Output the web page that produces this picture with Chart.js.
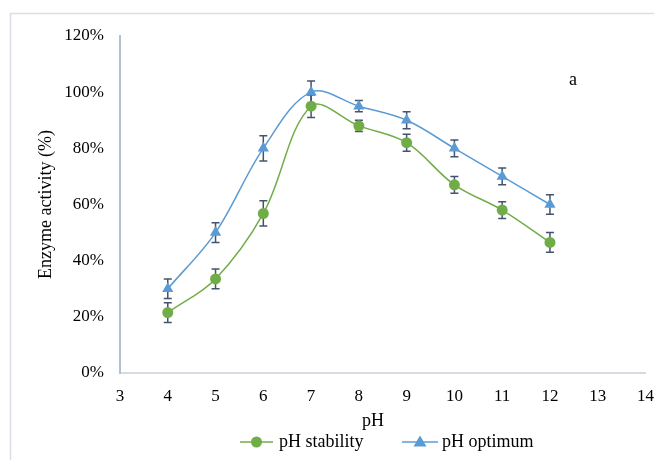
<!doctype html>
<html lang="en">
  <head>
    <meta charset="utf-8">
    <title>pH stability and optimum</title>
    <style>
      * { margin: 0; padding: 0; }
      body { background: #fff; }
      .chartBox { width: 654px; height: 460px; }
    </style>
  </head>
  <body>
    <div class="chartBox">
      <canvas id="myChart" width="654" height="460"></canvas>
    </div>
    <script src="https://cdn.jsdelivr.net/npm/chart.js"></script>
    <script>
    // data
    const phValues = [4, 5, 6, 7, 8, 9, 10, 11, 12];
    const stability = [21.5, 33.5, 56.8, 95, 88, 82, 67, 58, 46.5];
    const stabilityErr = [3.5, 3.5, 4.5, 4, 2, 3, 3, 3, 3.5];
    const optimum = [30, 50, 80, 100, 95, 90, 80, 70, 60];
    const optimumErr = [3.5, 3.5, 4.5, 4, 2, 3, 3, 3, 3.5];
    const yTicks = [0, 20, 40, 60, 80, 100, 120];
    const xTicks = [3, 4, 5, 6, 7, 8, 9, 10, 11, 12, 13, 14];

    const green = '#70ad47';
    const blue = '#5b9bd5';
    const errColor = '#44546a';
    const serif = "'Liberation Serif', 'Times New Roman', serif";

    const toPoints = (ys) => phValues.map((x, i) => ({ x, y: ys[i] }));

    const data = {
      datasets: [{
        label: 'pH stability',
        data: toPoints(stability),
        errors: stabilityErr,
        borderColor: green,
        backgroundColor: green,
        borderWidth: 1.5,
        pointStyle: 'circle',
        pointRadius: 5.5,
        pointBorderWidth: 0,
        tension: 0.35
      }, {
        label: 'pH optimum',
        data: toPoints(optimum),
        errors: optimumErr,
        borderColor: blue,
        backgroundColor: blue,
        borderWidth: 1.5,
        pointStyle: 'triangle',
        pointRadius: 6.5,
        pointBorderWidth: 0,
        tension: 0.35
      }]
    };

    // error bars, frame, legend and labels
    const extras = {
      id: 'extras',
      beforeDraw(chart) {
        const ctx = chart.ctx;
        ctx.save();
        ctx.strokeStyle = '#d9dde6';
        ctx.lineWidth = 1.5;
        ctx.strokeRect(10.5, 13.5, 720, 520);
        ctx.restore();
      },
      beforeDatasetsDraw(chart) {
        const ctx = chart.ctx;
        const xs = chart.scales.x, ys = chart.scales.y;
        ctx.save();
        ctx.strokeStyle = errColor;
        ctx.lineWidth = 1.5;
        chart.data.datasets.forEach(ds => {
          ds.data.forEach((p, i) => {
            const px = xs.getPixelForValue(p.x);
            const top = ys.getPixelForValue(p.y + ds.errors[i]);
            const bot = ys.getPixelForValue(p.y - ds.errors[i]);
            ctx.beginPath();
            ctx.moveTo(px, top); ctx.lineTo(px, bot);
            ctx.moveTo(px - 4, top); ctx.lineTo(px + 4, top);
            ctx.moveTo(px - 4, bot); ctx.lineTo(px + 4, bot);
            ctx.stroke();
          });
        });
        ctx.restore();
      },
      afterDraw(chart) {
        const ctx = chart.ctx;
        ctx.save();
        ctx.fillStyle = '#000';
        ctx.font = '18px ' + serif;
        ctx.textBaseline = 'middle';
        ctx.textAlign = 'center';
        ctx.fillText('pH', 373, 421);
        ctx.fillText('a', 573, 80);

        // legend: line with marker, then the series name
        const items = [
          { ds: chart.data.datasets[0], x0: 240, x1: 273, tx: 279 },
          { ds: chart.data.datasets[1], x0: 402, x1: 438, tx: 442 }
        ];
        const ly = 442;
        items.forEach(it => {
          ctx.strokeStyle = it.ds.borderColor;
          ctx.lineWidth = 1.5;
          ctx.beginPath();
          ctx.moveTo(it.x0, ly); ctx.lineTo(it.x1, ly);
          ctx.stroke();
          const cx = (it.x0 + it.x1) / 2;
          ctx.fillStyle = it.ds.backgroundColor;
          ctx.beginPath();
          if (it.ds.pointStyle === 'circle') {
            ctx.arc(cx, ly, 5.5, 0, Math.PI * 2);
          } else {
            ctx.moveTo(cx, ly - 6.5);
            ctx.lineTo(cx + 6.5, ly + 4.5);
            ctx.lineTo(cx - 6.5, ly + 4.5);
            ctx.closePath();
          }
          ctx.fill();
          ctx.fillStyle = '#000';
          ctx.textAlign = 'left';
          ctx.fillText(it.ds.label, it.tx, ly);
        });
        ctx.restore();
      }
    };

    const config = {
      type: 'line',
      data,
      options: {
        responsive: false,
        animation: false,
        layout: { padding: { left: 31, top: 36, right: 0, bottom: 0 } },
        plugins: {
          legend: { display: false },
          tooltip: { enabled: false }
        },
        scales: {
          x: {
            type: 'linear',
            min: 3,
            max: 14,
            afterBuildTicks: s => { s.ticks = xTicks.map(v => ({ value: v })); },
            afterFit: s => { s.height = 87; },
            grid: {
              display: true,
              drawOnChartArea: false,
              drawTicks: true,
              tickLength: 13,
              tickColor: 'rgba(0,0,0,0)'
            },
            border: { display: true, color: '#d6dae2', width: 2 },
            ticks: {
              color: '#000',
              padding: 0,
              maxRotation: 0,
              font: { family: serif, size: 17 }
            }
          },
          y: {
            min: 0,
            max: 120,
            afterBuildTicks: s => { s.ticks = yTicks.map(v => ({ value: v })); },
            afterFit: s => { s.width = 89; },
            grid: { display: false, drawTicks: false },
            border: { display: true, color: '#b4c0d4', width: 2 },
            title: {
              display: true,
              text: 'Enzyme activity (%)',
              color: '#000',
              font: { family: serif, size: 18 }
            },
            ticks: {
              color: '#000',
              padding: 16,
              font: { family: serif, size: 17 },
              callback: v => v + '%'
            }
          }
        }
      },
      plugins: [extras]
    };

    const myChart = new Chart(document.getElementById('myChart'), config);
    </script>
  </body>
</html>
